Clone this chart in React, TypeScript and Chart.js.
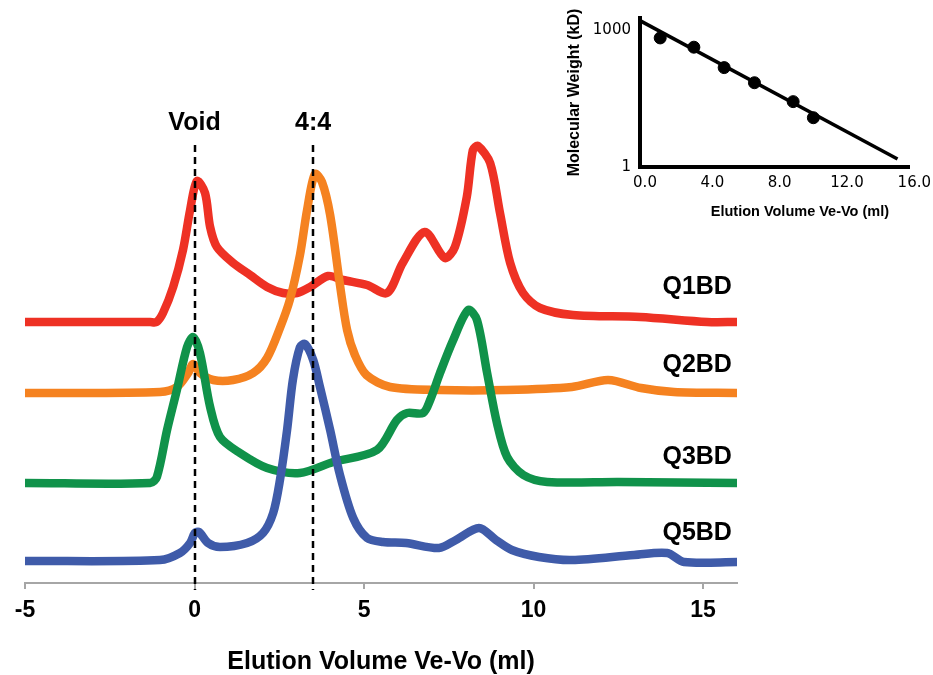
import React, { useEffect, useRef } from "react";
import { Chart, registerables } from "chart.js";

Chart.register(...registerables);

const FONT = '"Liberation Sans", Arial, sans-serif';
const TICK_FONT = '"DejaVu Sans", Verdana, sans-serif';

// ---- Main chromatogram data (elution volume Ve-Vo in ml, signal in arbitrary units) ----
const q1Volume = [-5, -1.31, -1.12, -0.93, -0.63, -0.34, -0.13, 0.07, 0.31, 0.46, 0.66, 1.14, 1.64, 2.14, 2.61, 3.02, 3.41, 3.94, 4.38, 5.09, 5.68, 6.14, 6.79, 7.38, 7.68, 8.03, 8.21, 8.36, 8.72, 9.01, 9.31, 9.69, 10.19, 11.16, 13.14, 15.12, 16];
const q1Signal = [261, 261, 261, 270, 296, 333, 373, 402, 390, 356, 336, 320, 308, 296, 290, 290, 296, 307, 303, 298, 290, 320, 351, 325, 336, 386, 433, 437, 420, 370, 320, 290, 275, 268, 266, 261, 261];

const q2Volume = [-5, -1.02, -0.52, -0.19, -0.04, 0.16, 0.55, 1.14, 1.73, 2.14, 2.52, 2.81, 3.11, 3.32, 3.55, 3.76, 4.0, 4.29, 4.5, 4.73, 5.07, 5.77, 7.24, 9.2, 11.13, 12.2, 13.17, 14.14, 16];
const q2Signal = [190, 191, 196, 210, 219, 210, 203, 203, 210, 225, 255, 283, 328, 373, 409, 401, 368, 298, 253, 228, 208, 196, 193, 193, 196, 203, 195, 191, 190];

const q3Volume = [-5, -1.31, -1.11, -0.81, -0.52, -0.22, -0.04, 0.16, 0.46, 0.75, 1.34, 2.14, 3.11, 4.09, 5.38, 5.97, 6.27, 6.74, 6.95, 7.24, 7.63, 8.07, 8.33, 8.63, 8.92, 9.22, 9.7, 10.4, 12.5, 16];
const q3Signal = [100, 100, 106, 153, 193, 236, 246, 230, 176, 146, 130, 115, 110, 121, 133, 163, 170, 170, 183, 210, 243, 273, 263, 210, 160, 126, 108, 101, 101, 100];

const q5Volume = [-5, -1.02, -0.43, -0.13, 0.01, 0.13, 0.4, 0.75, 1.55, 2.02, 2.32, 2.52, 2.73, 2.9, 3.11, 3.26, 3.5, 3.7, 4.0, 4.29, 4.68, 5.09, 5.56, 6.24, 7.21, 7.71, 8.39, 8.89, 9.36, 10.16, 11.13, 12.97, 13.94, 14.44, 16];
const q5Signal = [22, 23, 30, 40, 50, 51, 40, 36, 40, 50, 70, 103, 153, 203, 236, 239, 223, 196, 153, 108, 65, 45, 41, 40, 35, 43, 55, 43, 33, 26, 23, 28, 30, 21, 21];

const seriesNames = ["Q1BD", "Q2BD", "Q3BD", "Q5BD"];
const seriesColors = ["#EE3124", "#F58220", "#10924A", "#3F5BA9"];
const seriesLabelLevels = [296, 218, 126, 50];
const seriesLabelVolume = 15.85;

const mainTicks = [-5, 0, 5, 10, 15];
const markerVolumes = [0, 3.5];
const markerLabels = ["Void", "4:4"];
const markerTop = 438;
const markerBottom = -7;
const markerLabelLevel = 460;

// ---- Inset calibration data ----
const stdVolume = [1.2, 3.2, 5.0, 6.8, 9.1, 10.3];
const stdWeight = [670, 420, 150, 70, 27, 12];
const fitVolume = [0, 15.3];
const fitWeight = [1600, 1.5];
const insetXTicks = [0, 4, 8, 12, 16];
const insetYTicks = [1, 1000];
const insetXTitle = "Elution Volume Ve-Vo (ml)";
const insetXTitleVolume = 9.5;

const annotationPlugin = {
  id: "annotations",
  afterDatasetsDraw(chart: any) {
    const { ctx, scales } = chart;
    const x = scales.x;
    const y = scales.y;
    ctx.save();
    ctx.strokeStyle = "#000";
    ctx.lineWidth = 2.5;
    ctx.setLineDash([7, 5]);
    markerVolumes.forEach((v) => {
      const px = Math.round(x.getPixelForValue(v));
      ctx.beginPath();
      ctx.moveTo(px, y.getPixelForValue(markerTop));
      ctx.lineTo(px, y.getPixelForValue(markerBottom));
      ctx.stroke();
    });
    ctx.setLineDash([]);
    ctx.fillStyle = "#000";
    ctx.font = `bold 25px ${FONT}`;
    ctx.textAlign = "center";
    ctx.textBaseline = "middle";
    markerLabels.forEach((t, i) => {
      ctx.fillText(t, x.getPixelForValue(markerVolumes[i]), y.getPixelForValue(markerLabelLevel));
    });
    ctx.textAlign = "right";
    seriesNames.forEach((n, i) => {
      ctx.fillText(n, x.getPixelForValue(seriesLabelVolume), y.getPixelForValue(seriesLabelLevels[i]));
    });
    ctx.restore();
  },
};

const insetTitlePlugin = {
  id: "insetTitle",
  afterDraw(chart: any) {
    const { ctx, scales } = chart;
    const x = scales.x;
    ctx.save();
    ctx.fillStyle = "#000";
    ctx.font = `bold 14.5px ${FONT}`;
    ctx.textAlign = "center";
    ctx.textBaseline = "middle";
    ctx.fillText(insetXTitle, x.getPixelForValue(insetXTitleVolume), x.bottom - 20);
    ctx.restore();
  },
};

function zip(xs: number[], ys: number[]) {
  return xs.map((v, i) => ({ x: v, y: ys[i] }));
}

export default function App() {
  const mainRef = useRef<HTMLCanvasElement>(null);
  const insetRef = useRef<HTMLCanvasElement>(null);

  useEffect(() => {
    const volumes = [q1Volume, q2Volume, q3Volume, q5Volume];
    const signals = [q1Signal, q2Signal, q3Signal, q5Signal];
    const main = new Chart(mainRef.current as HTMLCanvasElement, {
      type: "line",
      data: {
        datasets: seriesNames.map((name, i) => ({
          label: name,
          data: zip(volumes[i], signals[i]),
          borderColor: seriesColors[i],
          backgroundColor: seriesColors[i],
          borderWidth: 8.5,
          pointRadius: 0,
          tension: 0.3,
          borderCapStyle: "round" as const,
          borderJoinStyle: "round" as const,
          fill: false,
          order: 4 - i,
        })),
      },
      options: {
        animation: false,
        responsive: false,
        devicePixelRatio: 1,
        layout: { padding: { left: 25, right: 196, top: 0, bottom: 0 } },
        plugins: { legend: { display: false }, tooltip: { enabled: false } },
        scales: {
          x: {
            type: "linear",
            min: -5,
            max: 16,
            afterBuildTicks: (s: any) => {
              s.ticks = mainTicks.map((v) => ({ value: v }));
            },
            afterFit: (s: any) => {
              s.height = 92;
            },
            grid: { display: true, drawOnChartArea: false, drawTicks: true, tickLength: 6, color: "#a6a6a6", lineWidth: 2 },
            border: { display: true, color: "#a6a6a6", width: 2 },
            ticks: { font: { family: FONT, size: 23, weight: "bold" }, color: "#000", padding: 8, maxRotation: 0, autoSkip: false },
            title: {
              display: true,
              text: "Elution Volume Ve-Vo (ml)",
              color: "#000",
              font: { family: FONT, size: 25, weight: "bold", lineHeight: 1 },
              padding: { top: 0, bottom: 0 },
            },
          },
          y: { display: false, min: 0, max: 583 },
        },
      },
      plugins: [annotationPlugin],
    });

    const inset = new Chart(insetRef.current as HTMLCanvasElement, {
      type: "scatter",
      data: {
        datasets: [
          {
            label: "standards",
            data: zip(stdVolume, stdWeight),
            backgroundColor: "#000",
            borderColor: "#000",
            pointRadius: 6,
            showLine: false,
            order: 1,
          },
          {
            label: "fit",
            data: zip(fitVolume, fitWeight),
            borderColor: "#000",
            backgroundColor: "#000",
            borderWidth: 3.5,
            pointRadius: 0,
            showLine: true,
            order: 2,
          },
        ],
      },
      options: {
        animation: false,
        responsive: false,
        devicePixelRatio: 1,
        layout: { padding: { left: 0, right: 23, top: 18, bottom: 0 } },
        plugins: { legend: { display: false }, tooltip: { enabled: false } },
        scales: {
          x: {
            type: "linear",
            min: 0,
            max: 16,
            afterBuildTicks: (s: any) => {
              s.ticks = insetXTicks.map((v) => ({ value: v }));
            },
            afterFit: (s: any) => {
              s.height = 65;
            },
            grid: { display: false, drawTicks: false },
            border: { display: true, color: "#000", width: 4 },
            ticks: {
              font: { family: TICK_FONT, size: 15 },
              color: "#000",
              padding: 7,
              labelOffset: 5,
              maxRotation: 0,
              autoSkip: false,
              callback: (v: any) => Number(v).toFixed(1),
            },
          },
          y: {
            type: "logarithmic",
            min: 1,
            max: 1830,
            afterBuildTicks: (s: any) => {
              s.ticks = insetYTicks.map((v) => ({ value: v }));
            },
            afterFit: (s: any) => {
              s.width = 80;
            },
            grid: { display: false, drawTicks: false },
            border: { display: true, color: "#000", width: 4 },
            ticks: {
              font: { family: TICK_FONT, size: 15 },
              color: "#000",
              padding: 9,
              autoSkip: false,
              callback: (v: any) => String(v),
            },
            title: {
              display: true,
              text: "Molecular Weight (kD)",
              color: "#000",
              font: { family: FONT, size: 16, weight: "bold" },
              padding: { top: 5, bottom: 0 },
            },
          },
        },
      },
      plugins: [insetTitlePlugin],
    });

    return () => {
      main.destroy();
      inset.destroy();
    };
  }, []);

  return (
    <div style={{ position: "fixed", left: 0, top: 0, width: 933, height: 675, background: "#fff" }}>
      <canvas ref={mainRef} width={933} height={675} style={{ position: "absolute", left: 0, top: 0, width: 933, height: 675 }} />
      <canvas ref={insetRef} width={373} height={232} style={{ position: "absolute", left: 560, top: 0, width: 373, height: 232 }} />
    </div>
  );
}
